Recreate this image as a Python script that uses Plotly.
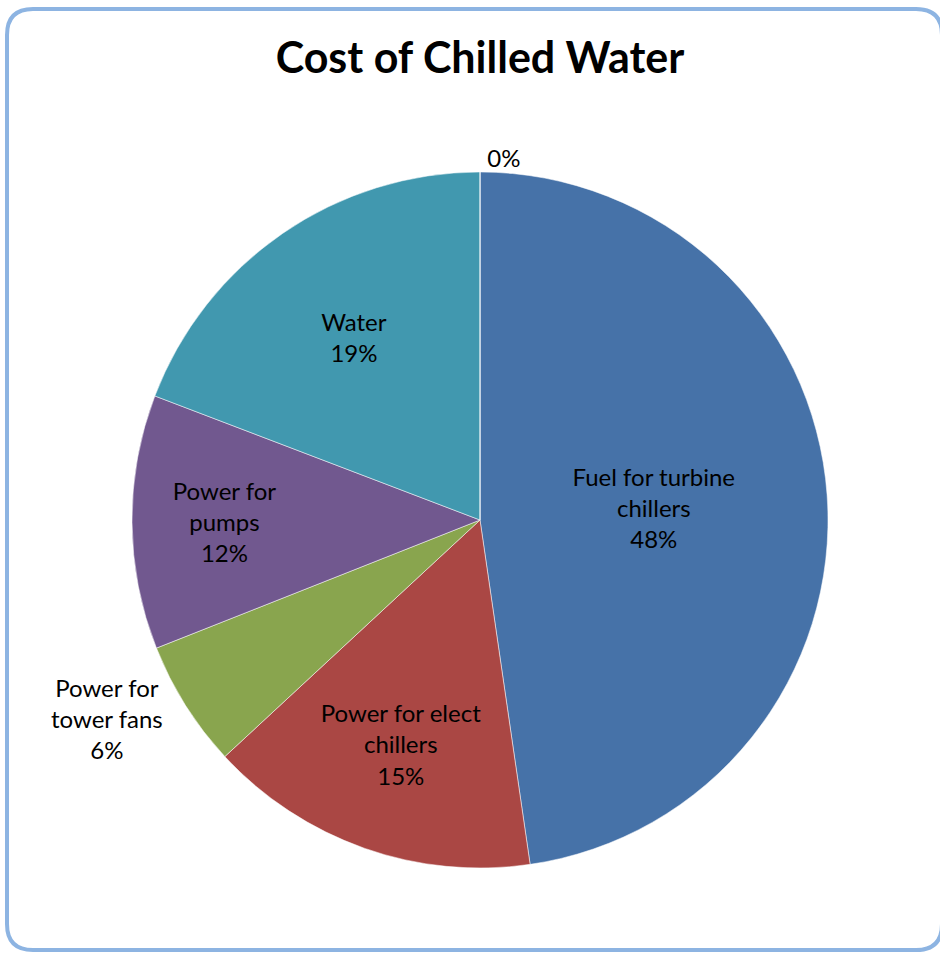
import plotly.graph_objects as go

# Cost breakdown of chilled water (share of total, %)
categories = [
    "Fuel for turbine<br>chillers",
    "Power for elect<br>chillers",
    "Power for<br>tower fans",
    "Power for<br>pumps",
    "Water",
    "Other",
]
shares = [47.7, 15.4, 5.9, 11.8, 19.2, 0.0]
colors = ["#4672A8", "#AA4744", "#89A54E", "#71588F", "#4198AF", "#DB843D"]
text_positions = ["inside", "inside", "outside", "inside", "inside", "outside"]
templates = [
    "%{label}<br>%{percent:.0%}",
    "%{label}<br>%{percent:.0%}",
    "%{label}<br>%{percent:.0%}",
    "%{label}<br>%{percent:.0%}",
    "%{label}<br>%{percent:.0%}",
    "%{percent:.0%}",
]

W, H = 940, 953
cx, cy, r = 480, 520, 348
label_font = dict(family="Lato, sans-serif", size=24, color="#000000")

fig = go.Figure(
    go.Pie(
        labels=categories,
        values=shares,
        sort=False,
        direction="clockwise",
        rotation=0,
        marker=dict(colors=colors, line=dict(color="rgba(255,255,255,0.5)", width=1)),
        texttemplate=templates,
        textposition=text_positions,
        insidetextorientation="horizontal",
        textfont=label_font,
        outsidetextfont=label_font,
        hoverinfo="label+percent",
        showlegend=False,
        domain=dict(
            x=[(cx - r) / W, (cx + r) / W],
            y=[(H - cy - r) / H, (H - cy + r) / H],
        ),
    )
)

# Rounded chart-area border
x0, y0, x1, y1, rad = 7, 9, 942, 950, 26
border = (
    f"M {x0 + rad},{y0} L {x1 - rad},{y0} Q {x1},{y0} {x1},{y0 + rad} "
    f"L {x1},{y1 - rad} Q {x1},{y1} {x1 - rad},{y1} "
    f"L {x0 + rad},{y1} Q {x0},{y1} {x0},{y1 - rad} "
    f"L {x0},{y0 + rad} Q {x0},{y0} {x0 + rad},{y0} Z"
)

fig.update_layout(
    width=W,
    height=H,
    margin=dict(l=0, r=0, t=0, b=0),
    paper_bgcolor="#FFFFFF",
    plot_bgcolor="#FFFFFF",
    title=dict(
        text="<b>Cost of Chilled Water</b>",
        x=480 / W,
        xanchor="center",
        y=1 - 58 / H,
        yanchor="middle",
        font=dict(family="Lato, sans-serif", size=43, color="#000000"),
    ),
    xaxis=dict(range=[0, W], visible=False, fixedrange=True),
    yaxis=dict(range=[H, 0], visible=False, fixedrange=True),
    shapes=[
        dict(
            type="path",
            path=border,
            xref="x",
            yref="y",
            line=dict(color="#8DB4E2", width=4),
            fillcolor="rgba(0,0,0,0)",
            layer="above",
        )
    ],
)

fig.write_html("out.html")
